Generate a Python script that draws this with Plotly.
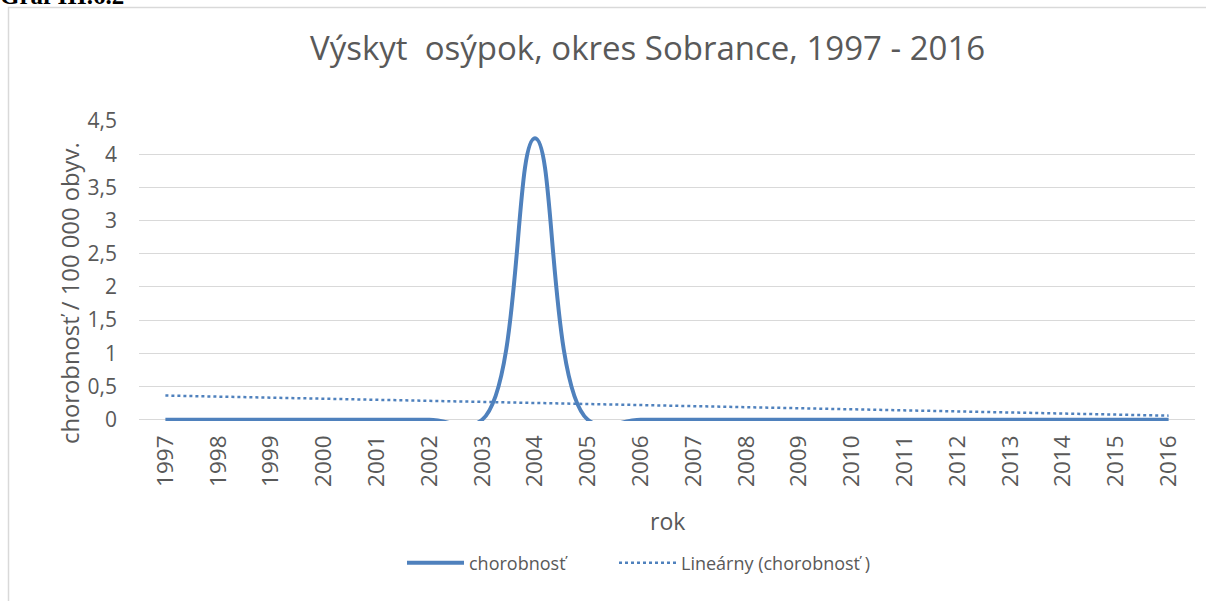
import numpy as np
import plotly.graph_objects as go

years = [str(y) for y in range(1997, 2017)]
chorobnost = [0, 0, 0, 0, 0, 0, 0, 4.24, 0, 0, 0, 0, 0, 0, 0, 0, 0, 0, 0, 0]

title_text = "Výskyt  osýpok, okres Sobrance, 1997 - 2016"
y_title = "chorobnosť / 100 000 obyv."
x_title = "rok"
legend_names = ["chorobnosť", "Lineárny (chorobnosť )"]
caption = "Graf III.6.2"

# linear trendline (least squares, as Excel computes it)
idx = np.arange(len(years))
slope, intercept = np.polyfit(idx, chorobnost, 1)
trend = list(intercept + slope * idx)

BLUE = "#4F81BD"
GRAY = "#595959"
FONT = "Open Sans"

fig = go.Figure()
fig.add_trace(go.Scatter(
    x=years, y=chorobnost, mode="lines", name=legend_names[0], legend="legend",
    line=dict(color=BLUE, width=4, shape="spline", smoothing=1.15),
))
fig.add_trace(go.Scatter(
    x=years, y=trend, mode="lines", name=legend_names[1], legend="legend2",
    line=dict(color=BLUE, width=2.5, dash="dot"),
))

W, H = 1206, 601
L, R, T, B = 139, 11, 121, 180
pw, ph = W - L - R, H - T - B

def px(xp):
    return (xp - L) / pw

def py(yp):
    return (H - B - yp) / ph

leg_common = dict(
    orientation="h", yanchor="middle", xanchor="left",
    font=dict(size=18, color=GRAY, family=FONT), itemwidth=57,
    bgcolor="rgba(0,0,0,0)",
)

fig.update_layout(
    width=W, height=H,
    margin=dict(l=L, r=R, t=T, b=B, pad=0),
    paper_bgcolor="white", plot_bgcolor="white",
    separators=", ",
    font=dict(family=FONT, color=GRAY),
    showlegend=True,
    legend=dict(x=px(402), y=py(563), **leg_common),
    legend2=dict(x=px(614), y=py(563), **leg_common),
    xaxis=dict(
        type="category", range=[-0.5, len(years) - 0.5],
        showgrid=False, zeroline=False, showline=False,
        tickangle=-90, tickfont=dict(size=22.5, color=GRAY, family=FONT),
        ticks="", ticklabelstandoff=9,
    ),
    yaxis=dict(
        range=[-0.02, 4.5], dtick=0.5, tick0=0,
        showgrid=True, gridcolor="#D9D9D9", gridwidth=1,
        zeroline=False, showline=False,
        tickfont=dict(size=21, color=GRAY, family=FONT),
        ticks="", ticklabelstandoff=21,
    ),
    annotations=[
        dict(text=title_text, x=px(647), y=py(48), xref="paper", yref="paper",
             showarrow=False, xanchor="center", yanchor="middle",
             font=dict(size=33, color=GRAY, family=FONT)),
        dict(text=x_title, x=px(667), y=py(521), xref="paper", yref="paper",
             showarrow=False, xanchor="center", yanchor="middle",
             font=dict(size=23, color=GRAY, family=FONT)),
        dict(text=y_title, x=px(70), y=py(293), xref="paper", yref="paper",
             showarrow=False, xanchor="center", yanchor="middle", textangle=-90,
             font=dict(size=23.8, color=GRAY, family=FONT)),
        dict(text="<b>" + caption + "</b>", x=px(-2), y=py(11), xref="paper", yref="paper",
             showarrow=False, xanchor="left", yanchor="bottom",
             font=dict(size=25, color="black", family="Liberation Serif")),
    ],
    shapes=[
        dict(type="rect", xref="paper", yref="paper",
             x0=px(8.5), x1=px(1220), y0=py(620), y1=py(7.5),
             line=dict(color="#D9D9D9", width=1.5), fillcolor="rgba(0,0,0,0)",
             layer="below"),
    ],
)

fig.write_html(
    "out.html",
    config=dict(displayModeBar=False),
    post_script="document.body.style.margin='0';document.body.style.overflow='hidden';",
)
